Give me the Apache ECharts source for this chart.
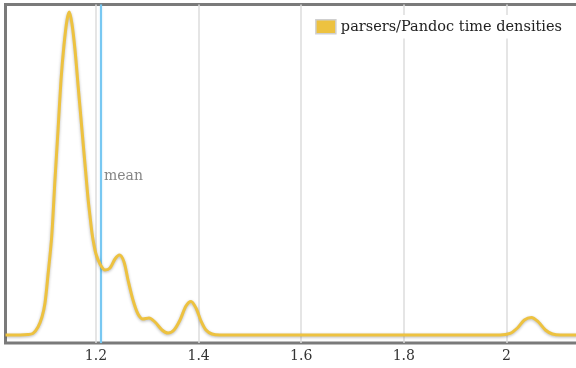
<!DOCTYPE html>
<html>
<head>
<meta charset="utf-8">
<script src="https://cdn.jsdelivr.net/npm/echarts@6/dist/echarts.min.js"></script>
<style>
  html, body { margin: 0; padding: 0; background: #fff; }
  #chart { width: 576px; height: 368px; }
</style>
</head>
<body>
<div id="chart"></div>
<script>
// Kernel density estimate of parsers/Pandoc run times (seconds)
const times = [1.0236, 1.0519, 1.0674, 1.0772, 1.0870, 1.0947, 1.1006, 1.1064, 1.1136, 1.1200,
  1.1260, 1.1318, 1.1376, 1.1435, 1.1480, 1.1532, 1.1591, 1.1655, 1.1708, 1.1766,
  1.1799, 1.1844, 1.1883, 1.1922, 1.1961, 1.2000, 1.2078, 1.2175, 1.2273, 1.2370, 1.2458,
  1.2546, 1.2624, 1.2721, 1.2819, 1.2916, 1.3033, 1.3150, 1.3287, 1.3404, 1.3521,
  1.3638, 1.3754, 1.3852, 1.3949, 1.4047, 1.4144, 1.4261, 1.4417, 1.6000, 1.8000,
  1.9875, 2.0070, 2.0214, 2.0350, 2.0487, 2.0624, 2.0760, 2.0897, 2.1053, 2.1395];
const densities = [0, 0, 0.02, 0.08, 0.4, 0.9, 1.6, 3.0, 4.9, 7.75,
  10.25, 12.75, 14.5, 15.75, 16.15, 15.55, 14.25, 12.35, 10.8, 9.1,
  8.15, 6.85, 5.95, 5.1, 4.5, 4.05, 3.55, 3.25, 3.35, 3.8, 4.0,
  3.65, 2.75, 1.75, 1.05, 0.8, 0.85, 0.65, 0.25, 0.1, 0.25,
  0.75, 1.45, 1.68, 1.35, 0.7, 0.25, 0.05, 0, 0, 0,
  0, 0.08, 0.35, 0.75, 0.88, 0.65, 0.25, 0.05, 0, 0];
const meanTime = 1.2078;
const tickValues = [1.2, 1.4, 1.6, 1.8, 2.0];
const seriesName = 'parsers/Pandoc time densities';

const xMin = 1.0236, xMax = 2.1395;
const yMin = -0.4, yMax = 16.525;
const serif = '"DejaVu Serif", serif';

const chart = echarts.init(document.getElementById('chart'), null, { renderer: 'canvas' });
chart.setOption({
  animation: false,
  backgroundColor: '#fff',
  grid: { left: 5.5, top: 4.5, width: 572.5, bottom: 25, show: true,
          outerBoundsMode: 'none', containLabel: false,
          borderColor: '#7a7a7a', borderWidth: 3, backgroundColor: 'transparent' },
  legend: {
    right: 8, top: 15, z: 10,
    padding: [4, 6],
    backgroundColor: '#ffffff',
    itemWidth: 20, itemHeight: 14, itemGap: 6,
    textStyle: { fontFamily: serif, fontSize: 14.5, color: '#222' },
    data: [{ name: seriesName, icon: 'rect',
             itemStyle: { color: '#edc240', borderColor: '#cfcfcf', borderWidth: 1.5 } }]
  },
  xAxis: {
    type: 'value', min: xMin, max: xMax,
    axisLine: { show: false }, axisTick: { show: false }, splitLine: { show: false },
    axisLabel: {
      customValues: tickValues,
      margin: 6,
      fontFamily: serif, fontSize: 14, color: '#333',
      formatter: v => String(parseFloat(v.toFixed(2)))
    }
  },
  yAxis: {
    type: 'value', min: yMin, max: yMax,
    axisLine: { show: false }, axisTick: { show: false },
    axisLabel: { show: false }, splitLine: { show: false }
  },
  series: [
    {
      // vertical grid lines at the tick positions
      type: 'line', data: [], silent: true,
      markLine: {
        silent: true, symbol: 'none', label: { show: false },
        lineStyle: { color: '#dcdcdc', width: 1.5, type: 'solid' },
        data: tickValues.map(v => ({ xAxis: v }))
      }
    },
    {
      // mean marker
      type: 'line', data: [], silent: true, z: 3,
      markLine: {
        silent: true, symbol: 'none', label: { show: false },
        lineStyle: { color: '#78c8f2', width: 2, type: 'solid',
                     shadowColor: 'rgba(120,200,242,0.5)', shadowBlur: 2 },
        data: [{ xAxis: meanTime }]
      }
    },
    {
      type: 'scatter', silent: true, z: 4,
      symbolSize: 0,
      data: [[meanTime, (yMin + yMax) / 2 - 0.15]],
      label: { show: true, position: 'right', distance: 4, formatter: 'mean',
               fontFamily: serif, fontSize: 14, color: '#666' }
    },
    {
      name: seriesName,
      type: 'line', z: 5,
      smooth: 0.3,
      showSymbol: false,
      data: times.map((t, i) => [t, densities[i]]),
      itemStyle: { color: '#edc240' },
      lineStyle: { color: '#edc240', width: 3,
                   shadowColor: 'rgba(0,0,0,0.28)', shadowBlur: 3, shadowOffsetY: 1 }
    }
  ]
});
</script>
</body>
</html>
